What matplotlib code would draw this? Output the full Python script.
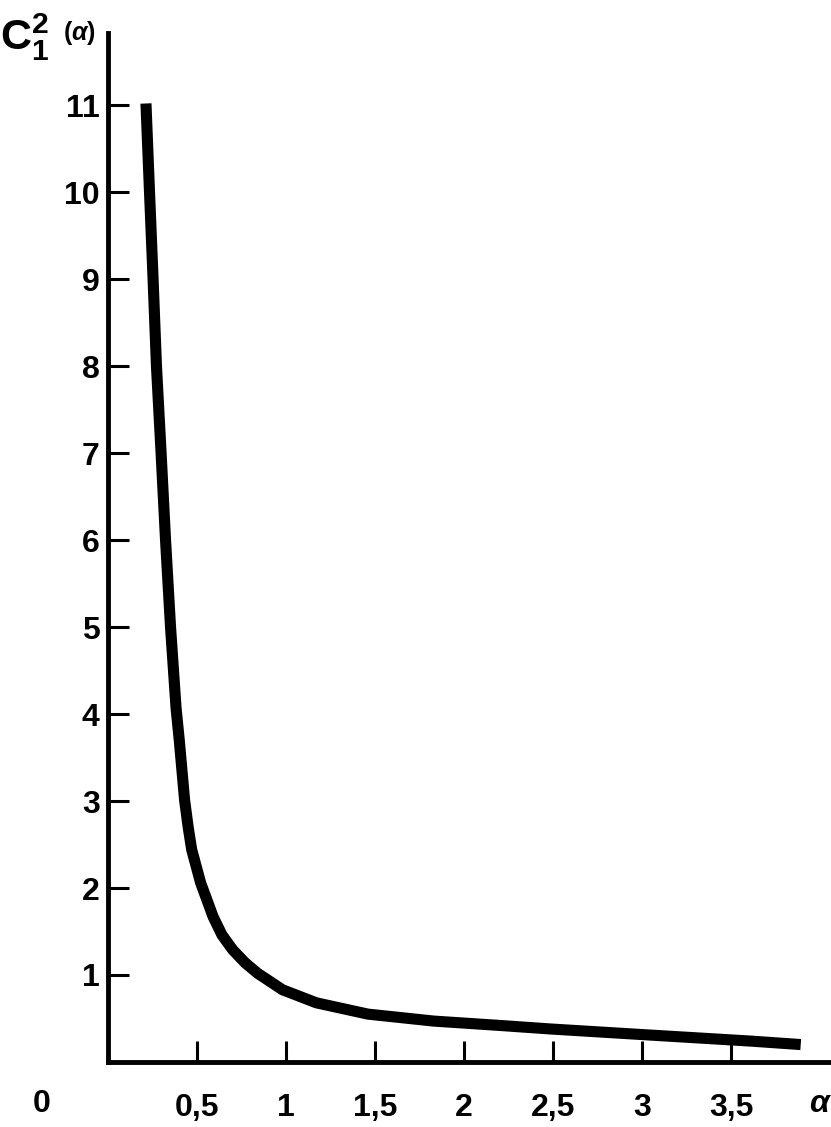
import matplotlib.pyplot as plt
import numpy as np

# values
alpha = [0.213, 0.233, 0.253, 0.272, 0.298, 0.323, 0.351, 0.382, 0.400, 0.43,
         0.45, 0.47, 0.52, 0.59, 0.64, 0.70, 0.77, 0.84, 0.98, 1.17, 1.46,
         1.83, 2.20, 2.48, 3.04, 3.61, 3.89]
c12 = [11.02, 10.0, 9.0, 8.0, 7.0, 6.0, 5.0, 4.07, 3.70, 3.01,
       2.7, 2.44, 2.06, 1.67, 1.46, 1.29, 1.14, 1.02, 0.83, 0.68, 0.55,
       0.47, 0.42, 0.38, 0.31, 0.24, 0.20]

xticks = [0.5, 1, 1.5, 2, 2.5, 3, 3.5]
xticklabels = ['0,5', '1', '1,5', '2', '2,5', '3', '3,5']
yticks = [1, 2, 3, 4, 5, 6, 7, 8, 9, 10, 11]

fam = ['Liberation Sans Narrow', 'Liberation Sans', 'DejaVu Sans']
plt.rcParams['font.family'] = fam
plt.rcParams['mathtext.fontset'] = 'custom'
plt.rcParams['mathtext.bf'] = 'Liberation Sans:bold'
plt.rcParams['mathtext.it'] = 'Liberation Sans:italic:bold'

fig = plt.figure(figsize=(8.31, 11.27), dpi=100)
ax = fig.add_axes([0.130, 0.0577, 0.87, 0.913])

ax.plot(alpha, c12, color='black', lw=8, solid_capstyle='butt',
        solid_joinstyle='round')

ax.set_xlim(0, 4.06)
ax.set_ylim(0, 11.83)
for s in ['top', 'right']:
    ax.spines[s].set_visible(False)
for s in ['left', 'bottom']:
    ax.spines[s].set_linewidth(3.5)

ax.set_xticks(xticks)
ax.set_xticklabels(xticklabels)
ax.set_yticks(yticks)
ax.tick_params(direction='in', length=15, width=2.2, labelsize=23)
ax.tick_params(axis='x', pad=22)
ax.tick_params(axis='y', pad=6)
for lab in ax.get_xticklabels() + ax.get_yticklabels():
    lab.set_fontweight('bold')

ax.text(-0.37, -0.48, '0', ha='center', va='center', fontsize=23,
        fontweight='bold', transform=ax.transData, clip_on=False)
ax.text(4.0, -0.48, r'$\alpha$', ha='center', va='center', fontsize=23,
        transform=ax.transData, clip_on=False)

fig.text(0.0, 0.967, r'$\mathbf{C}_{\mathbf{1}}^{\mathbf{2}}$', fontsize=31,
         ha='left', va='center')
fig.text(0.076, 0.971, r'($\alpha$)', fontsize=18, fontweight='bold',
         ha='left', va='center')

fig.savefig('out.png', dpi=100)
